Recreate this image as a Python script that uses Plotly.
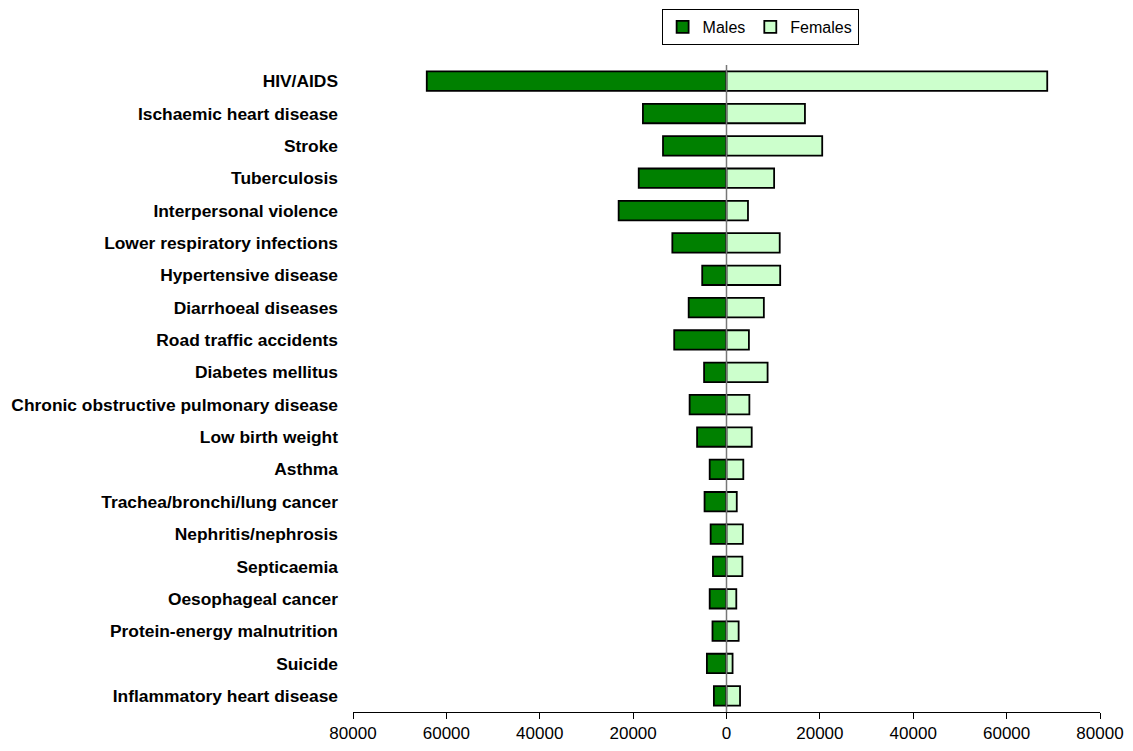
import plotly.graph_objects as go

causes = [
    "HIV/AIDS",
    "Ischaemic heart disease",
    "Stroke",
    "Tuberculosis",
    "Interpersonal violence",
    "Lower respiratory infections",
    "Hypertensive disease",
    "Diarrhoeal diseases",
    "Road traffic accidents",
    "Diabetes mellitus",
    "Chronic obstructive pulmonary disease",
    "Low birth weight",
    "Asthma",
    "Trachea/bronchi/lung cancer",
    "Nephritis/nephrosis",
    "Septicaemia",
    "Oesophageal cancer",
    "Protein-energy malnutrition",
    "Suicide",
    "Inflammatory heart disease",
]

males = [64200, 17900, 13600, 18800, 23100, 11600, 5200, 8100, 11200, 4800,
         7900, 6300, 3600, 4700, 3400, 2900, 3600, 3000, 4200, 2700]
females = [68700, 16800, 20500, 10200, 4600, 11400, 11500, 8000, 4800, 8800,
           4900, 5400, 3600, 2200, 3500, 3400, 2100, 2600, 1300, 2900]

tick_vals = [-80000, -60000, -40000, -20000, 0, 20000, 40000, 60000, 80000]
tick_text = ["80000", "60000", "40000", "20000", "0", "20000", "40000", "60000", "80000"]

fig = go.Figure()
fig.add_trace(go.Bar(
    y=causes, x=[-v for v in males], orientation="h", name="Males",
    marker=dict(color="#008000", line=dict(color="#000000", width=1.8)),
    width=0.6,
))
fig.add_trace(go.Bar(
    y=causes, x=females, orientation="h", name="Females",
    marker=dict(color="#CCFFCC", line=dict(color="#000000", width=1.8)),
    width=0.6,
))

# zero line drawn on top of the bars
fig.add_shape(type="line", xref="x", yref="paper", x0=0, x1=0, y0=0, y1=1,
              line=dict(color="#777777", width=1.5), layer="above")

fig.update_layout(
    width=1133, height=751,
    barmode="relative",
    plot_bgcolor="white", paper_bgcolor="white",
    margin=dict(l=353, r=33, t=65, b=39, autoexpand=False),
    font=dict(family="Liberation Sans, Arial, sans-serif", size=17, color="#000000"),
    legend=dict(
        orientation="h", x=0.545, xanchor="center", y=1.0866, yanchor="top",
        bordercolor="#000000", borderwidth=1, bgcolor="white",
        font=dict(size=16), itemwidth=30, traceorder="normal",
        tracegroupgap=0,
    ),
    xaxis=dict(
        range=[-80000, 80000], tickvals=tick_vals, ticktext=tick_text,
        showgrid=False, zeroline=False, showline=True, linecolor="#000000",
        linewidth=1, ticks="outside", ticklen=6, tickcolor="#000000",
        tickfont=dict(size=17),
    ),
    yaxis=dict(
        autorange="reversed", showgrid=False, zeroline=False, showline=False,
        ticks="", ticklabelstandoff=14,
        tickfont=dict(size=17.4, weight="bold"),
    ),
    bargap=0.4,
)

fig.write_html("out.html")
